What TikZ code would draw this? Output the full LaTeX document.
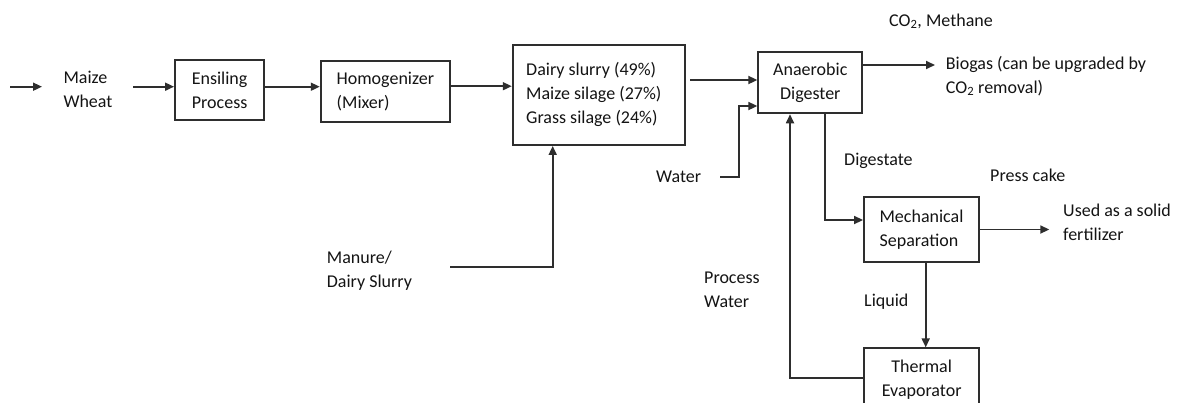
\documentclass[tikz,border=0pt]{standalone}
\usepackage{fontspec}
\setmainfont{Carlito}
\usetikzlibrary{arrows.meta,calc}
\begin{document}
\begin{tikzpicture}[x=1pt,y=-1pt,
  every node/.style={font=\fontsize{18}{24}\selectfont, text=black!92, inner sep=0pt},
  stage/.style={draw=black!82, line width=1.9pt, fill=white},
  lbl/.style={align=left, anchor=base west},
  flow/.style={draw=black!82, line width=1.7pt, -{Triangle[length=9pt,width=8pt]}}]
\useasboundingbox (0,0) rectangle (1198,402);
\fill[white] (0,0) rectangle (1198,402);

% process stages
\node[stage, minimum width=89.3pt, minimum height=60pt, align=center] (ens) at (219.65,90) {Ensiling\\Process};
\node[stage, minimum width=129.3pt, minimum height=61pt, align=left] (hom) at (385.35,91.2) {Homogenizer\\(Mixer)};
\node[stage, minimum width=172.3pt, minimum height=100pt] (mix) at (598.85,95) {};
\node[lbl] (mixtxt) at (526,123.3) {Dairy slurry (49\%)\\Maize silage (27\%)\\Grass silage (24\%)};
\node[stage, minimum width=104pt, minimum height=61.6pt, align=center] (ana) at (810.3,82.5) {Anaerobic\\Digester};
\node[stage, minimum width=115pt, minimum height=65pt, align=left] (mech) at (921.5,229.5) {Mechanical\\Separation};
\node[stage, minimum width=114.7pt, minimum height=63.4pt, align=center] (therm) at (921.65,380) {Thermal\\Evaporator};

% stream labels (anchored on the baseline of their last line)
\node[lbl] (feed) at (63.3,107.7) {Maize\\Wheat};
\node[lbl] (manure) at (326.7,287.3) {Manure/\\Dairy Slurry};
\node[lbl] (water) at (656,182.7) {Water};
\node[lbl] (gas) at (889,26) {CO\textsubscript{2}, Methane};
\node[lbl] (biogas) at (945.7,93.3) {Biogas (can be upgraded by\\CO\textsubscript{2} removal)};
\node[lbl] (dig) at (844,165) {Digestate};
\node[lbl] (cake) at (990,181.7) {Press cake};
\node[lbl] (fert) at (1063,240) {Used as a solid\\fertilizer};
\node[lbl] (liq) at (864,306.7) {Liquid};
\node[lbl] (pw) at (704,307.7) {Process\\Water};

% free ends and bend points
\coordinate (in0) at (10,86.7);
\coordinate (in1) at (42,86.7);
\coordinate (fw) at (133.3,86.7);
\coordinate (d4) at (690,80);
\coordinate (ws) at (720,176.7);
\coordinate (wt) at (739,106);
\coordinate (ms) at (450,267.3);
\coordinate (bgs) at ([yshift=17.5pt]ana.east);

% flows
\draw[flow] (in0) -- (in1);
\draw[flow] (fw) -- (fw -| ens.west);
\draw[flow] (ens.east |- fw) -- (hom.west |- fw);
\draw[flow] ([yshift=5pt]hom.east) -- ([yshift=5pt]hom.east -| mix.west);
\draw[flow] (d4) -- (d4 -| ana.west);
\draw[flow] (bgs) -- ([xshift=-10.7pt]bgs -| biogas.west);
\draw[flow] (ws) -| (wt) -- (wt -| ana.west);
\draw[flow] (ms) -| ([xshift=-46.15pt]mix.south);
\draw[flow] ([xshift=14.7pt]ana.south) |- ([yshift=9.5pt]mech.west);
\draw[flow] (mech.east) -- ([xshift=-13.7pt]mech.east -| fert.west);
\draw[flow] ([xshift=4.2pt]mech.south) -- ([xshift=4.2pt]mech.south |- therm.north);
\draw[flow] ([yshift=1.7pt]therm.west) -| ([xshift=-20.3pt]ana.south);
\end{tikzpicture}
\end{document}
